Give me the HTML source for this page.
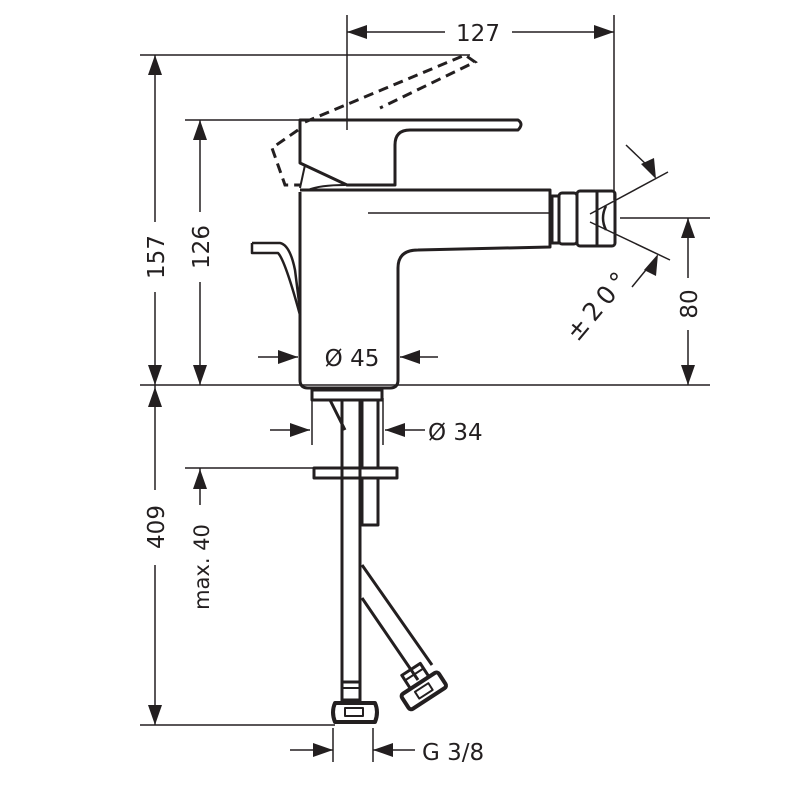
<!DOCTYPE html>
<html><head><meta charset="utf-8"><style>html,body{margin:0;padding:0;background:#fff}svg{display:block}</style></head>
<body>
<svg width="800" height="800" viewBox="0 0 800 800" xmlns="http://www.w3.org/2000/svg" font-family="DejaVu Sans, Liberation Sans, sans-serif" fill="none" stroke="#231f20">
<g stroke-width="1.5">
<line x1="347" y1="15" x2="347" y2="130"/>
<line x1="614" y1="15" x2="614" y2="200"/>
<line x1="347" y1="32" x2="445" y2="32"/>
<line x1="512" y1="32" x2="614" y2="32"/>
<line x1="140" y1="55" x2="470" y2="55"/>
<line x1="185" y1="120" x2="300" y2="120"/>
<line x1="140" y1="385" x2="710" y2="385"/>
<line x1="620" y1="218" x2="710" y2="218"/>
<line x1="155" y1="55" x2="155" y2="222"/>
<line x1="155" y1="292" x2="155" y2="385"/>
<line x1="200" y1="120" x2="200" y2="212"/>
<line x1="200" y1="282" x2="200" y2="385"/>
<line x1="688" y1="218" x2="688" y2="278"/>
<line x1="688" y1="330" x2="688" y2="385"/>
<line x1="155" y1="385" x2="155" y2="490"/>
<line x1="155" y1="565" x2="155" y2="725"/>
<line x1="185" y1="468" x2="315" y2="468"/>
<line x1="200" y1="468" x2="200" y2="505"/>
<line x1="140" y1="725" x2="335" y2="725"/>
<line x1="258" y1="357" x2="298" y2="357"/>
<line x1="400" y1="357" x2="438" y2="357"/>
<line x1="270" y1="430" x2="310" y2="430"/>
<line x1="385" y1="430" x2="425" y2="430"/>
<line x1="312" y1="398" x2="312" y2="445"/>
<line x1="383" y1="398" x2="383" y2="445"/>
<line x1="290" y1="750" x2="333" y2="750"/>
<line x1="373" y1="750" x2="415" y2="750"/>
<line x1="333" y1="728" x2="333" y2="762"/>
<line x1="373" y1="728" x2="373" y2="762"/>
<line x1="590" y1="214" x2="668" y2="172"/>
<line x1="590" y1="222" x2="670" y2="260"/>
<line x1="626" y1="145" x2="650" y2="168"/>
<line x1="632" y1="287" x2="650" y2="265"/>
</g>
<g fill="#231f20" stroke="none">
<polygon points="347,32 367,25 367,39"/>
<polygon points="614,32 594,25 594,39"/>
<polygon points="155,55 148,75 162,75"/>
<polygon points="155,385 148,365 162,365"/>
<polygon points="200,120 193,140 207,140"/>
<polygon points="200,385 193,365 207,365"/>
<polygon points="688,218 681,238 695,238"/>
<polygon points="688,385 681,365 695,365"/>
<polygon points="155,387 148,407 162,407"/>
<polygon points="155,725 148,705 162,705"/>
<polygon points="200,469 193,489 207,489"/>
<polygon points="298,357 278,350 278,364"/>
<polygon points="400,357 420,350 420,364"/>
<polygon points="310,430 290,423 290,437"/>
<polygon points="385,430 405,423 405,437"/>
<polygon points="333,750 313,743 313,757"/>
<polygon points="373,750 393,743 393,757"/>
<polygon points="656,179 641,164 654,158"/>
<polygon points="658,254 644,270 656,276"/>
</g>
<g fill="#231f20" stroke="none" font-size="23">
<text x="478" y="41" text-anchor="middle">127</text>
<text x="352" y="366" text-anchor="middle">Ø 45</text>
<text x="428" y="440">Ø 34</text>
<text x="422" y="760">G 3/8</text>
<text transform="translate(164,257) rotate(-90)" text-anchor="middle">157</text>
<text transform="translate(209,247) rotate(-90)" text-anchor="middle">126</text>
<text transform="translate(697,304) rotate(-90)" text-anchor="middle">80</text>
<text transform="translate(164,527) rotate(-90)" text-anchor="middle">409</text>
<text transform="translate(209,567) rotate(-90)" text-anchor="middle" font-size="21">max. 40</text>
<text transform="translate(605,310) rotate(-50)" text-anchor="middle" letter-spacing="5" font-size="25">±20°</text>
</g>
<g stroke-width="3" stroke-linejoin="round">
<path d="M300,120 L518,120 Q524,124 518,130 L410,130 Q395,130 395,145 L395,185 L347,185 L300,163 Z"/>
<path d="M300,192 L300,380 Q300,388 308,388 L390,388 Q398,388 398,380 L398,268 Q398,250 418,250 L550,247 L550,190 L300,190"/>
<path d="M345,185 Q320,185 308,190" stroke-width="2"/>
<path d="M305,165 L300,188" stroke-width="2"/>
<line x1="368" y1="213" x2="550" y2="213" stroke-width="1.5"/>
<rect x="552" y="196" width="7" height="47"/>
<rect x="559" y="193" width="18" height="51" rx="3"/>
<rect x="577" y="191" width="38" height="55" rx="3"/>
<line x1="597" y1="191" x2="597" y2="246"/>
<path d="M606,206 Q600,218 606,230" stroke-width="2.5"/>
<path d="M252,243 L280,243 Q290,245 295,270 L300,310" stroke-width="2.5"/>
<path d="M252,243 L252,253 L278,253 Q285,260 300,315" stroke-width="2.5"/>
</g>
<g stroke-width="3" stroke-dasharray="10,6">
<path d="M305,122 L465,55 L475,62 L380,108"/>
<path d="M298,130 L272,148 L285,185 L300,185"/>
</g>
<g stroke-width="3" stroke-linejoin="round">
<rect x="312" y="390" width="70" height="10"/>
<path d="M330,400 L345,430"/>
<rect x="342" y="400" width="18" height="300"/>
<rect x="362" y="400" width="16" height="68"/>
<rect x="314" y="468" width="83" height="10"/>
<rect x="362" y="478" width="16" height="47"/>
<path d="M362,565 L432,665 M362,598 L418,680"/>
<rect x="342" y="682" width="18" height="20"/>
<line x1="342" y1="688" x2="360" y2="688" stroke-width="2"/>
<path d="M335,703 L375,703 Q379,712 375,722 L335,722 Q331,712 335,703 Z" stroke-width="4"/>
<rect x="345" y="708" width="18" height="8" stroke-width="2"/>
<g transform="translate(420,685) rotate(-33)">
<rect x="-10" y="-18" width="22" height="16"/>
<line x1="-10" y1="-12" x2="12" y2="-12" stroke-width="2"/>
<rect x="-22" y="-2" width="44" height="18" stroke-width="4" rx="3"/>
<rect x="-8" y="3" width="16" height="8" stroke-width="2"/>
</g>
</g>
</svg>
</body></html>
